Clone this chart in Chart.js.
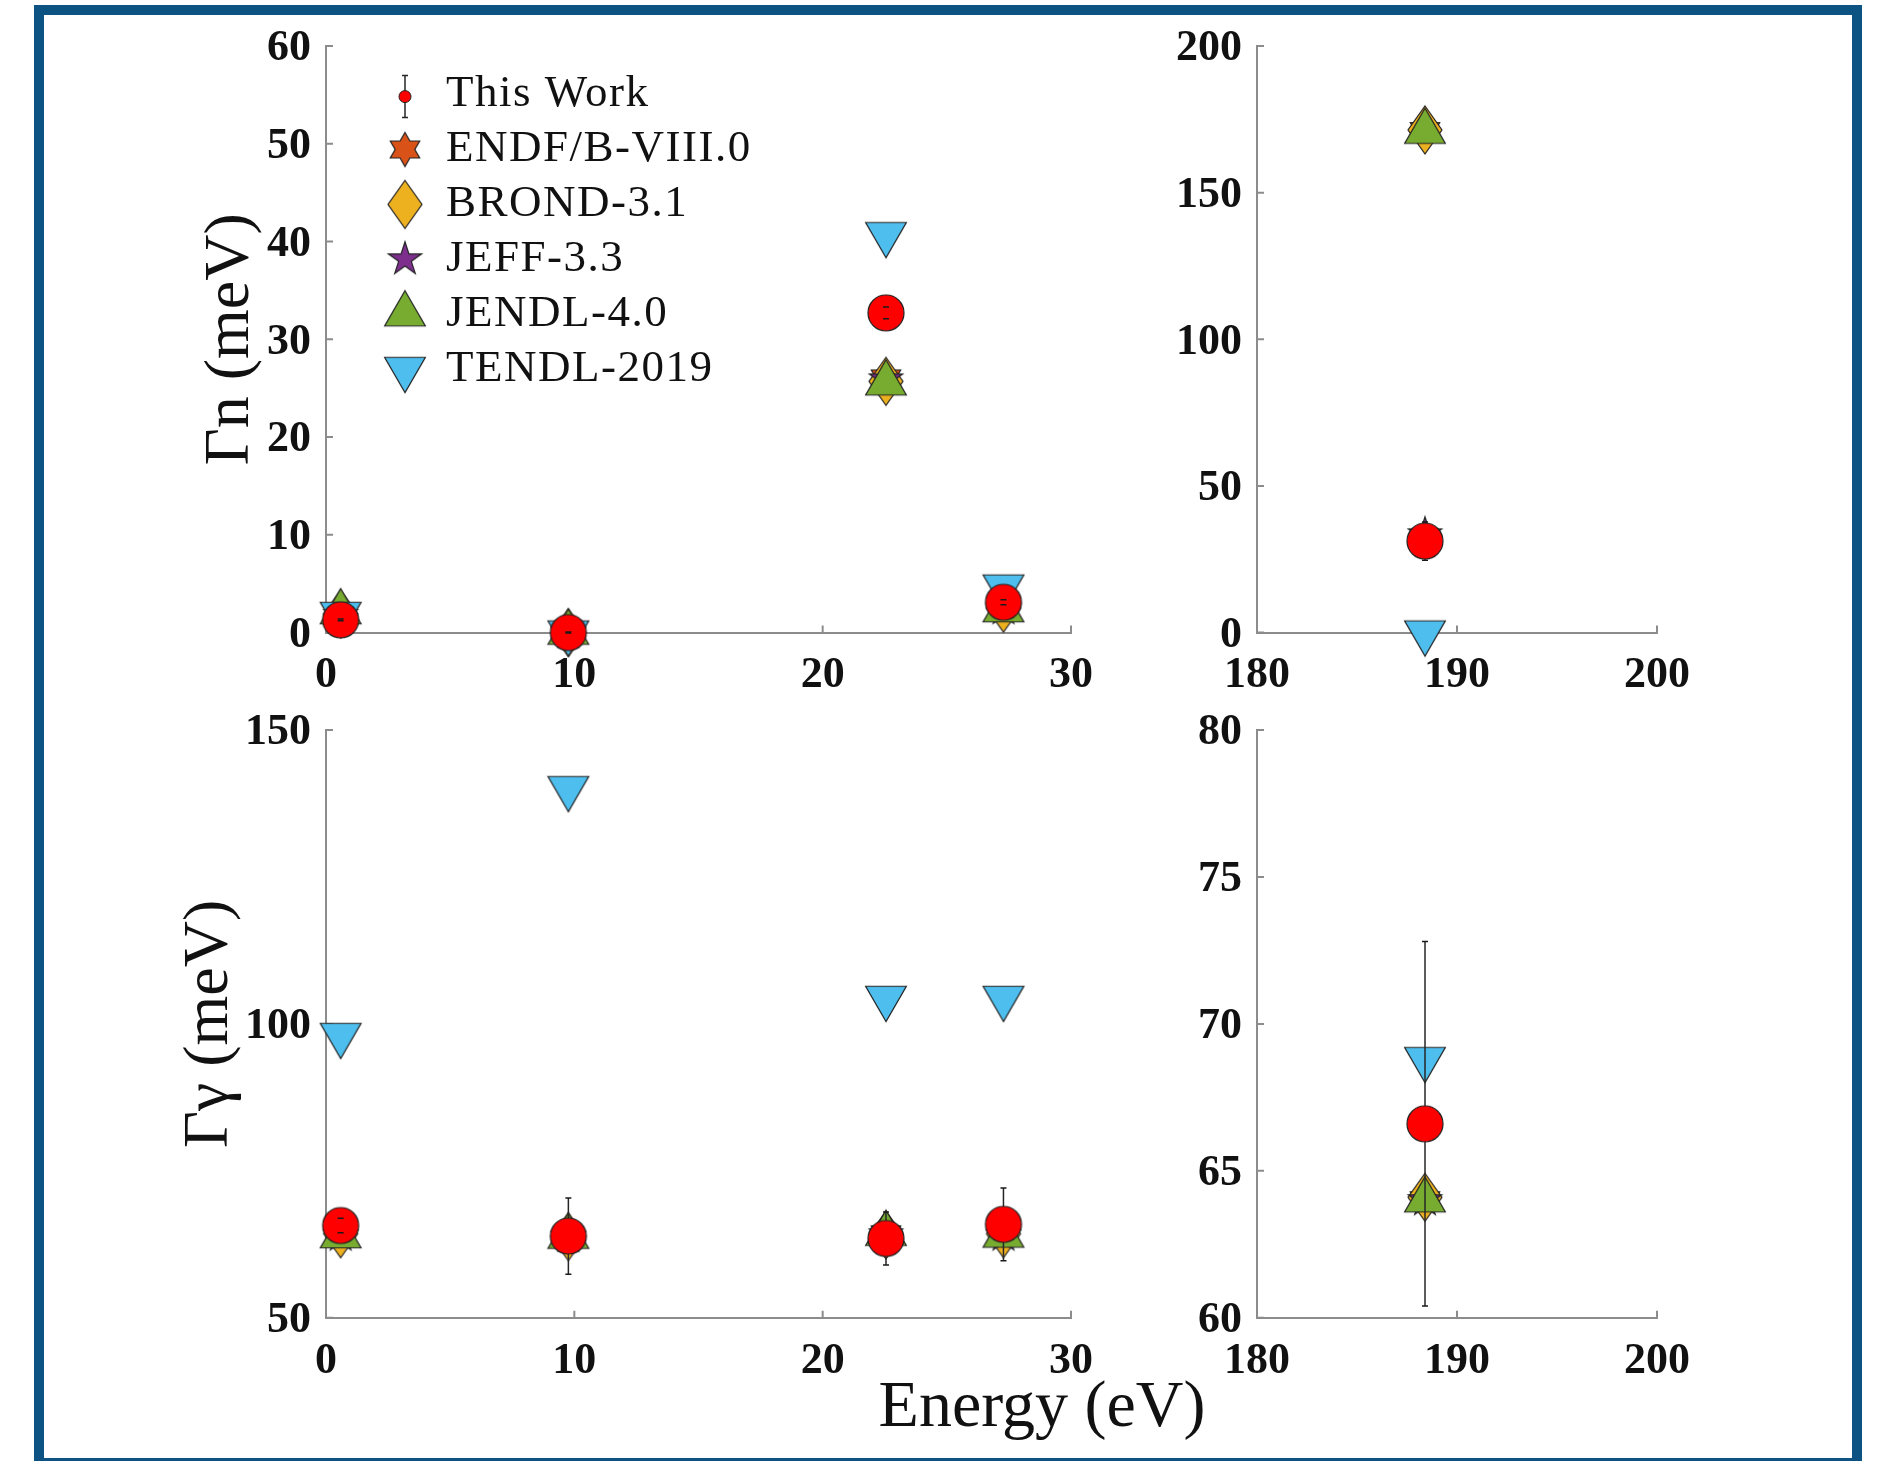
<!DOCTYPE html>
<html>
<head>
<meta charset="utf-8">
<title>Resonance widths</title>
<script src="https://cdn.jsdelivr.net/npm/chart.js@4.4.1/dist/chart.umd.min.js"></script>
<style>
  html, body { margin: 0; padding: 0; background: #ffffff; }
  body { position: relative; width: 1881px; height: 1461px; overflow: hidden; }
  #frame {
    position: absolute; left: 34px; top: 5px; width: 1828px; height: 1463px;
    box-sizing: border-box; border: 10px solid #0c5282;
  }
  canvas { position: absolute; }
  #gn-low { left: 0; top: 0; }
  #gn-high { left: 1120px; top: 0; }
  #gg-low { left: 0; top: 680px; }
  #gg-high { left: 1120px; top: 680px; }
  #energy-label {
    position: absolute; left: 842px; top: 1371px; width: 400px; text-align: center;
    font: 66px/66px "Liberation Serif", "Times New Roman", serif; color: #111;
  }
</style>
</head>
<body>
<div id="frame"></div>
<canvas id="gn-low" width="1120" height="720"></canvas>
<canvas id="gn-high" width="761" height="720"></canvas>
<canvas id="gg-low" width="1120" height="781"></canvas>
<canvas id="gg-high" width="761" height="781"></canvas>
<div id="energy-label">Energy (eV)</div>
<script>
// resonance energies (eV)
const energyLow = [0.59, 9.76, 22.55, 27.28]
const energyHigh = [188.4]

const libraries = ["This Work", "ENDF/B-VIII.0", "BROND-3.1", "JEFF-3.3", "JENDL-4.0", "TENDL-2019"]

// neutron widths Γn (meV)
const gnWork = [1.3, 0.0, 32.7, 3.1]
const gnWorkErr = [0.1, 0.05, 0.6, 0.25]
const gnEndf = [1.8, 0.0, 26.0, 2.4]
const gnBrond = [1.9, 0.0, 25.7, 2.5]
const gnJeff = [1.8, 0.0, 25.9, 2.4]
const gnJendl = [2.1, 0.0, 25.5, 2.3]
const gnTendl = [1.9, 0.0, 40.75, 4.7]

const gnWorkHigh = [31.2]
const gnWorkErrHigh = [6.5]
const gnEndfHigh = [171.0]
const gnBrondHigh = [171.4]
const gnJeffHigh = [33.5]
const gnJendlHigh = [170.8]
const gnTendlHigh = [0.0]

// radiative widths Γγ (meV)
const ggWork = [65.7, 63.9, 63.5, 65.9]
const ggWorkErr = [1.25, 6.5, 4.5, 6.2]
const ggEndf = [64.0, 63.8, 64.2, 64.0]
const ggBrond = [64.3, 63.8, 64.1, 64.3]
const ggJeff = [64.0, 63.8, 64.2, 64.0]
const ggJendl = [63.9, 63.8, 64.3, 64.0]
const ggTendl = [98.1, 140.1, 104.4, 104.4]

const ggWorkHigh = [66.6]
const ggWorkErrHigh = [6.2]
const ggEndfHigh = [64.0]
const ggBrondHigh = [64.1]
const ggJeffHigh = [64.0]
const ggJendlHigh = [64.0]
const ggTendlHigh = [68.8]

// tick values
const xTicksLow = [0, 10, 20, 30]
const xTicksHigh = [180, 190, 200]
const gnTicksLow = [0, 10, 20, 30, 40, 50, 60]
const gnTicksHigh = [0, 50, 100, 150, 200]
const ggTicksLow = [50, 100, 150]
const ggTicksHigh = [60, 65, 70, 75, 80]

const axisGray = "#8c8c8c"
const textColor = "#111111"
const serif = "'Liberation Serif', 'Times New Roman', serif"

Chart.defaults.font.family = serif
Chart.defaults.color = textColor

// marker glyphs, drawn once and reused as point styles
const markerFills = ["#ff0000", "#d95319", "#edb120", "#7e2f8e", "#77ac30", "#4dbeee"]
const markerShapes = ["circle", "hexagram", "diamond", "pentagram", "up", "down"]

function starPath(g, cx, cy, points, outer, inner) {
  for (let k = 0; k < points * 2; k++) {
    const r = k % 2 === 0 ? outer : inner
    const a = -Math.PI / 2 + k * Math.PI / points
    const px = cx + r * Math.cos(a)
    const py = cy + r * Math.sin(a)
    if (k === 0) g.moveTo(px, py)
    else g.lineTo(px, py)
  }
}

function triPath(g, cx, cy, r, start) {
  for (let k = 0; k < 3; k++) {
    const a = start + k * 2 * Math.PI / 3
    const px = cx + r * Math.cos(a)
    const py = cy + r * Math.sin(a)
    if (k === 0) g.moveTo(px, py)
    else g.lineTo(px, py)
  }
}

function makeMarker(shape, fill) {
  const c = document.createElement("canvas")
  c.width = 54
  c.height = 54
  const g = c.getContext("2d")
  const cx = 27, cy = 27
  g.beginPath()
  if (shape === "circle") g.arc(cx, cy, 18, 0, Math.PI * 2)
  else if (shape === "hexagram") starPath(g, cx, cy, 6, 17, 17 / Math.sqrt(3))
  else if (shape === "pentagram") starPath(g, cx, cy, 5, 17.5, 17.5 * 0.382)
  else if (shape === "up") triPath(g, cx, cy, 23.5, -Math.PI / 2)
  else if (shape === "down") triPath(g, cx, cy, 23.5, Math.PI / 2)
  else if (shape === "diamond") {
    g.moveTo(cx, cy - 24)
    g.lineTo(cx + 17, cy)
    g.lineTo(cx, cy + 24)
    g.lineTo(cx - 17, cy)
  }
  g.closePath()
  g.fillStyle = fill
  g.fill()
  g.lineWidth = 1.2
  g.strokeStyle = "#222222"
  g.stroke()
  return c
}

const markers = markerShapes.map((s, i) => makeMarker(s, markerFills[i]))
// lower order is painted last (on top)
const drawOrder = [0, 5, 4, 3, 2, 1]

// inward tick marks along both axes
const innerTicks = {
  id: "innerTicks",
  beforeDatasetsDraw(chart) {
    const { ctx, chartArea, scales } = chart
    ctx.save()
    ctx.strokeStyle = axisGray
    ctx.lineWidth = 2
    ctx.beginPath()
    scales.x.ticks.forEach(t => {
      const px = scales.x.getPixelForValue(t.value)
      ctx.moveTo(px, chartArea.bottom)
      ctx.lineTo(px, chartArea.bottom - 7)
    })
    scales.y.ticks.forEach(t => {
      const py = scales.y.getPixelForValue(t.value)
      ctx.moveTo(chartArea.left, py)
      ctx.lineTo(chartArea.left + 7, py)
    })
    ctx.stroke()
    ctx.restore()
  }
}

// vertical error bars: stem under the marker, caps over it
const errorBars = {
  id: "errorBars",
  beforeDatasetDraw(chart, args) {
    const ds = chart.data.datasets[args.index]
    if (!ds.errors) return
    const { ctx, scales } = chart
    ctx.save()
    ctx.strokeStyle = "#262626"
    ctx.lineWidth = 1.5
    ctx.beginPath()
    ds.data.forEach((p, k) => {
      const px = scales.x.getPixelForValue(p.x)
      ctx.moveTo(px, scales.y.getPixelForValue(p.y - ds.errors[k]))
      ctx.lineTo(px, scales.y.getPixelForValue(p.y + ds.errors[k]))
    })
    ctx.stroke()
    ctx.restore()
  },
  afterDatasetDraw(chart, args) {
    const ds = chart.data.datasets[args.index]
    if (!ds.errors) return
    const { ctx, scales } = chart
    ctx.save()
    ctx.strokeStyle = "#1a1a1a"
    ctx.lineWidth = 1.5
    ctx.beginPath()
    ds.data.forEach((p, k) => {
      const px = scales.x.getPixelForValue(p.x)
      const lo = scales.y.getPixelForValue(p.y - ds.errors[k])
      const hi = scales.y.getPixelForValue(p.y + ds.errors[k])
      ctx.moveTo(px - 3, lo)
      ctx.lineTo(px + 3, lo)
      ctx.moveTo(px - 3, hi)
      ctx.lineTo(px + 3, hi)
    })
    ctx.stroke()
    ctx.restore()
  }
}

// legend inside the first panel
const keyLegend = {
  id: "keyLegend",
  afterDraw(chart) {
    const { ctx, chartArea } = chart
    const markX = chartArea.left + 79
    const textX = chartArea.left + 120
    const top = chartArea.top + 48.6
    const step = 54.9
    ctx.save()
    ctx.font = "45px " + serif
    ctx.letterSpacing = "1.5px"
    ctx.fillStyle = textColor
    ctx.textBaseline = "middle"
    ctx.textAlign = "left"
    chart.data.datasets.forEach((ds, i) => {
      const y = top + i * step
      if (i === 0) {
        ctx.strokeStyle = "#262626"
        ctx.lineWidth = 1.5
        ctx.beginPath()
        ctx.moveTo(markX, y - 19)
        ctx.lineTo(markX, y + 23)
        ctx.moveTo(markX - 3, y - 19)
        ctx.lineTo(markX + 3, y - 19)
        ctx.moveTo(markX - 3, y + 23)
        ctx.lineTo(markX + 3, y + 23)
        ctx.stroke()
        ctx.beginPath()
        ctx.arc(markX, y + 2, 6, 0, Math.PI * 2)
        ctx.fillStyle = markerFills[0]
        ctx.fill()
        ctx.strokeStyle = "#222222"
        ctx.lineWidth = 1
        ctx.stroke()
        ctx.fillStyle = textColor
      } else {
        const m = ds.pointStyle
        ctx.drawImage(m, markX - m.width / 2, y - m.height / 2)
      }
      ctx.fillText(ds.label, textX, y)
    })
    ctx.restore()
  }
}

function panel(id, cfg) {
  const datasets = libraries.map((name, i) => ({
    label: name,
    data: cfg.energies.map((e, k) => ({ x: e, y: cfg.values[i][k] })),
    pointStyle: markers[i],
    pointRadius: 12,
    pointHoverRadius: 12,
    showLine: false,
    clip: false,
    order: drawOrder[i],
    errors: i === 0 ? cfg.errors : null
  }))
  const plugins = [innerTicks, errorBars]
  if (cfg.legend) plugins.push(keyLegend)

  return new Chart(document.getElementById(id), {
    type: "scatter",
    data: { datasets },
    plugins,
    options: {
      responsive: false,
      animation: false,
      events: [],
      layout: { padding: cfg.padding },
      plugins: {
        legend: { display: false },
        tooltip: { enabled: false }
      },
      scales: {
        x: {
          type: "linear",
          min: cfg.xTicks[0],
          max: cfg.xTicks[cfg.xTicks.length - 1],
          afterBuildTicks: s => { s.ticks = cfg.xTicks.map(v => ({ value: v })) },
          afterFit: s => { s.height = cfg.xHeight },
          grid: { drawOnChartArea: false, drawTicks: false },
          border: { display: true, color: axisGray, width: 2 },
          ticks: {
            font: { size: 44, weight: "bold" },
            color: textColor,
            padding: 17,
            autoSkip: false,
            maxRotation: 0
          }
        },
        y: {
          type: "linear",
          min: cfg.yTicks[0],
          max: cfg.yTicks[cfg.yTicks.length - 1],
          afterBuildTicks: s => { s.ticks = cfg.yTicks.map(v => ({ value: v })) },
          afterFit: s => { s.width = cfg.yWidth },
          grid: { drawOnChartArea: false, drawTicks: false },
          border: { display: true, color: axisGray, width: 2 },
          ticks: {
            font: { size: 44, weight: "bold" },
            color: textColor,
            padding: 15,
            labelOffset: 3,
            autoSkip: false
          },
          title: {
            display: !!cfg.yTitle,
            text: cfg.yTitle || "",
            font: { size: 64, weight: "normal" },
            color: textColor,
            padding: { top: cfg.titlePad || 0, bottom: 0 }
          }
        }
      }
    }
  })
}

panel("gn-low", {
  energies: energyLow,
  values: [gnWork, gnEndf, gnBrond, gnJeff, gnJendl, gnTendl],
  errors: gnWorkErr,
  xTicks: xTicksLow,
  yTicks: gnTicksLow,
  padding: { left: 150, top: 46, right: 49, bottom: 0 },
  yWidth: 176,
  xHeight: 87.4,
  yTitle: "Γn (meV)",
  titlePad: 42.6,
  legend: true
})

panel("gn-high", {
  energies: energyHigh,
  values: [gnWorkHigh, gnEndfHigh, gnBrondHigh, gnJeffHigh, gnJendlHigh, gnTendlHigh],
  errors: gnWorkErrHigh,
  xTicks: xTicksHigh,
  yTicks: gnTicksHigh,
  padding: { left: 20, top: 46, right: 224, bottom: 0 },
  yWidth: 117,
  xHeight: 87.4
})

panel("gg-low", {
  energies: energyLow,
  values: [ggWork, ggEndf, ggBrond, ggJeff, ggJendl, ggTendl],
  errors: ggWorkErr,
  xTicks: xTicksLow,
  yTicks: ggTicksLow,
  padding: { left: 150, top: 50, right: 49, bottom: 0 },
  yWidth: 176,
  xHeight: 143.2,
  yTitle: "Γγ (meV)",
  titlePad: 21.6
})

panel("gg-high", {
  energies: energyHigh,
  values: [ggWorkHigh, ggEndfHigh, ggBrondHigh, ggJeffHigh, ggJendlHigh, ggTendlHigh],
  errors: ggWorkErrHigh,
  xTicks: xTicksHigh,
  yTicks: ggTicksHigh,
  padding: { left: 20, top: 50, right: 224, bottom: 0 },
  yWidth: 117,
  xHeight: 143.2
})
</script>
</body>
</html>
